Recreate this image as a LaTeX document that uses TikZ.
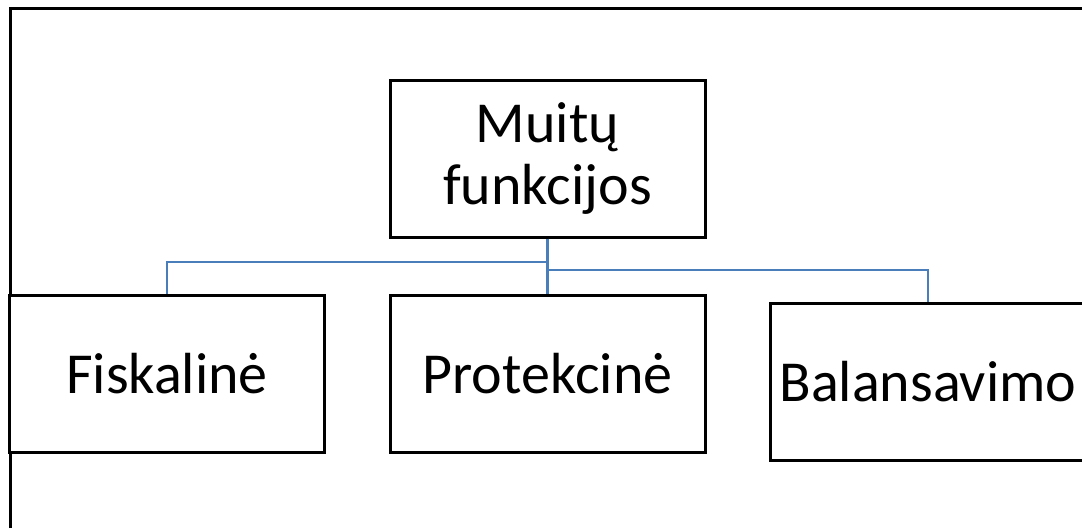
\documentclass[tikz,border=0pt]{standalone}
\usepackage{fontspec}
\setmainfont{Carlito}
\begin{document}
\begin{tikzpicture}[x=1pt,y=-1pt,
  box/.style={draw=black,line width=3pt,fill=white,minimum width=315pt,minimum height=157pt,inner sep=0pt,align=center,font=\fontsize{58}{62}\selectfont},
  conn/.style={draw={rgb,255:red,74;green,126;blue,187},line width=2.5pt}]
\useasboundingbox (0,0) rectangle (1082,528);
\clip (0,0) rectangle (1082,528);
\draw[line width=3pt] (10,528) -- (10,8) -- (1090,8);
\node[box] (top) at (547.5,158.5) {Muitų\\funkcijos};
\node[box] (fis) at (167,373.5) {Fiskalinė};
\node[box] (pro) at (547.5,373.5) {Protekcinė};
\node[box] (bal) at (928,381.5) {Balansavimo};
\coordinate (j1) at (547.5,262);
\coordinate (j2) at (547.5,270);
\draw[conn] (top.south) -- (pro.north);
\draw[conn] (j1) -| (fis.north);
\draw[conn] (j2) -| (bal.north);
\end{tikzpicture}
\end{document}
